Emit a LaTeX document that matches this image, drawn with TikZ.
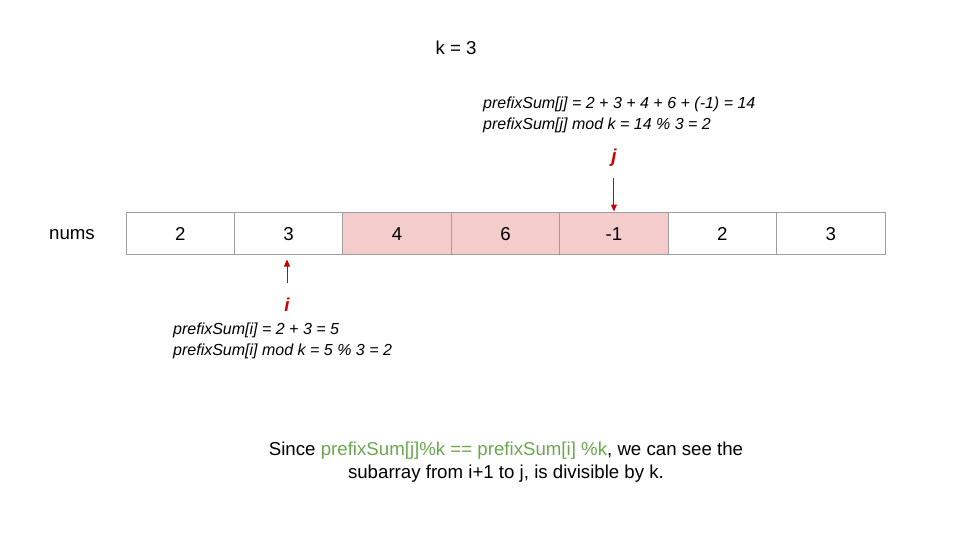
\documentclass[tikz,border=0pt]{standalone}
\usepackage{fontspec}
\setmainfont{Liberation Sans}
\usetikzlibrary{arrows.meta}
\definecolor{cellgray}{HTML}{9E9E9E}
\definecolor{cellpink}{HTML}{F4CCCC}
\definecolor{ptrred}{HTML}{CC0000}
\definecolor{noteg}{HTML}{6AA84F}
\tikzset{
	cell/.style={draw=cellgray, line width=1pt, minimum width=108.43pt, minimum height=42pt, inner sep=0pt, font=\fontsize{18.67}{22}\selectfont},
	ptr/.style={draw=ptrred, line width=1pt, -{Triangle[length=7pt,width=6pt,fill=ptrred]}},
	ptrlabel/.style={text=ptrred, font=\fontsize{18.67}{22}\selectfont\bfseries\itshape, inner sep=0pt},
	note/.style={align=left, anchor=north west, inner sep=0pt, font=\fontsize{16}{21}\selectfont\itshape}
}
\begin{document}
\begin{tikzpicture}[x=1pt, y=-1pt]
	\useasboundingbox (0,0) rectangle (960,540);
	
	\node [font=\fontsize{18.67}{22}\selectfont] (k) at (456,48) {k = 3};
	\node [font=\fontsize{18.67}{22}\selectfont] (nums) at (72,235) {nums};
	
	% the array
	\foreach \v [count=\n] in {2,3,4,6,-1,2,3} {
		\node [cell] (c\n) at ({126+108.43*(\n-0.5)},233) {};
	}
	\foreach \n in {3,4,5} {
		\node [cell, fill=cellpink] at (c\n) {};
	}
	\foreach \v [count=\n] in {2,3,4,6,-1,2,3} {
		\node [font=\fontsize{18.67}{22}\selectfont] at ([yshift=-1pt]c\n) {\v};
	}
	
	% pointer j
	\node [ptrlabel] (jlab) at (614,158) {j};
	\coordinate (jtop) at (c5.north |- 0,178);
	\draw [ptr] (jtop) -- (c5.north);
	\node [note] (jnote) at (483,97) {prefixSum[j] = 2 + 3 + 4 + 6 + (-1) = 14\\prefixSum[j] mod k = 14 \% 3 = 2};
	
	% pointer i
	\node [ptrlabel] (ilab) at (287,305) {i};
	\coordinate (ibot) at (ilab.center |- 0,283);
	\draw [ptr] (ibot) -- ([yshift=-5pt]ibot |- c2.south);
	\node [note] (inote) at (173,323) {prefixSum[i] = 2 + 3 = 5\\prefixSum[i] mod k = 5 \% 3 = 2};
	
	\node [align=center, font=\fontsize{18.67}{23}\selectfont] (concl) at (506,462) {Since \textcolor{noteg}{prefixSum[j]\%k == prefixSum[i] \%k}, we can see the\\subarray from i+1 to j, is divisible by k.};
\end{tikzpicture}
\end{document}
